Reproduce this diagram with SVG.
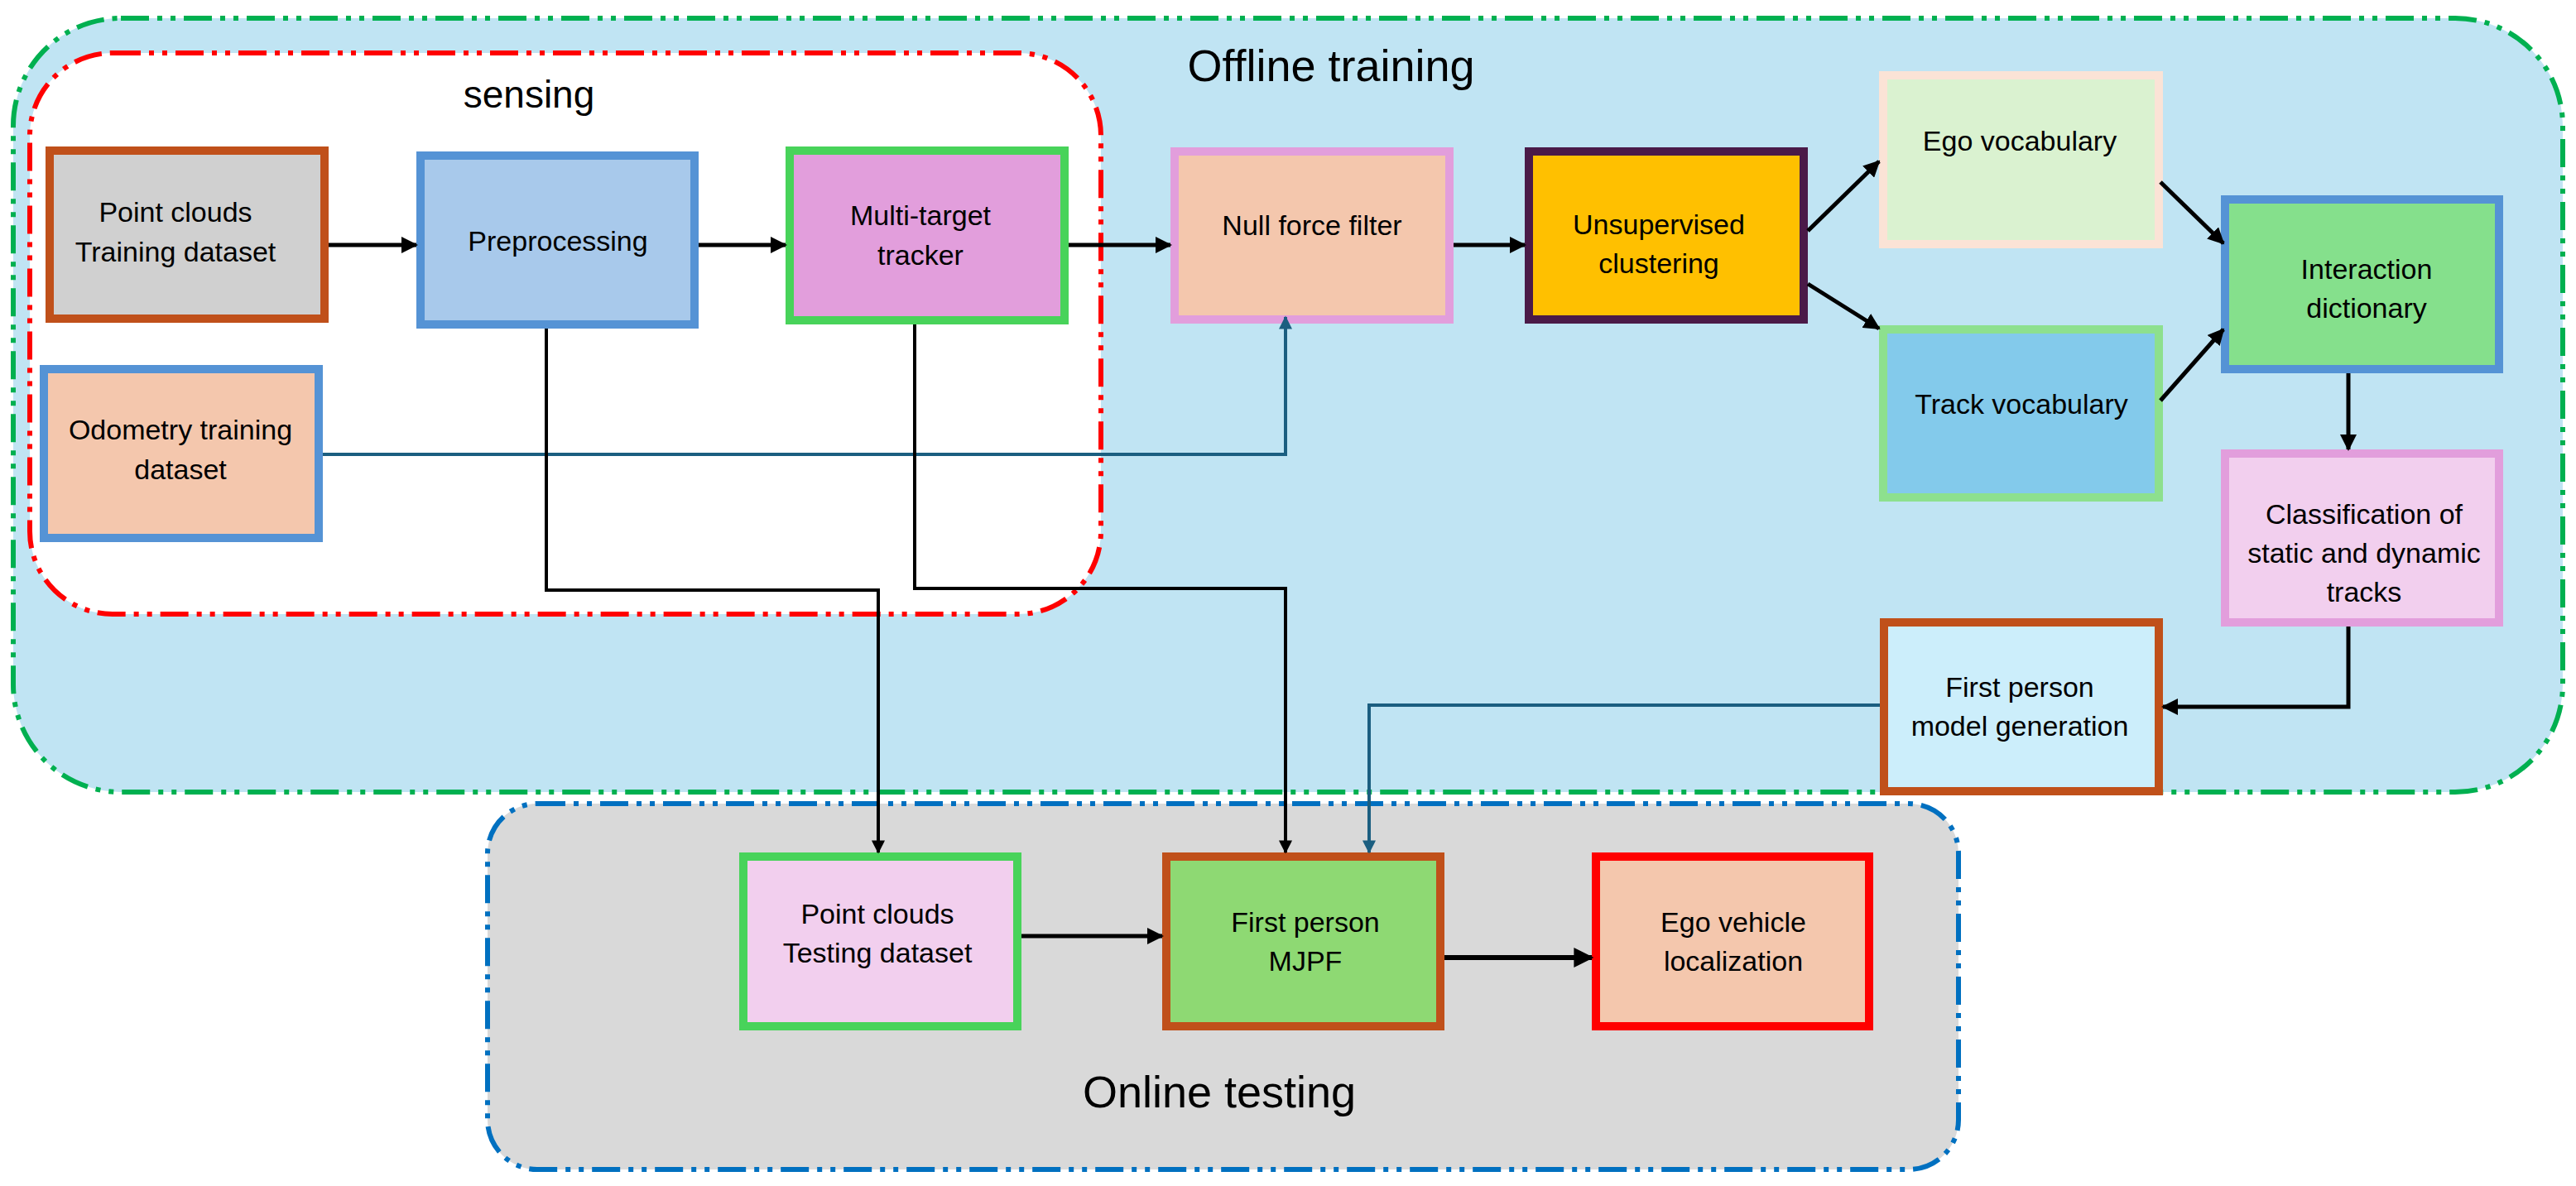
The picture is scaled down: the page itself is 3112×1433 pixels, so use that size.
<svg xmlns="http://www.w3.org/2000/svg" width="3112" height="1433" viewBox="0 0 3112 1433">
<style>
text{font-family:"Liberation Sans",Arial,sans-serif;fill:#000;text-anchor:middle}
.t{font-size:34px}
.big{font-size:54px}
.box{stroke-width:10}
.c{fill:none;stroke:#000;stroke-width:5}
.thin{fill:none;stroke:#000;stroke-width:4}
.teal{fill:none;stroke:#1B5E80;stroke-width:4}
.grp{stroke-width:6;stroke-dasharray:34 10 6 10 6 10}
</style>
<defs>
<marker id="a" viewBox="0 0 10 10" refX="9" refY="5" markerWidth="4" markerHeight="4" orient="auto" markerUnits="strokeWidth"><path d="M0,0L10,5L0,10z" fill="#000"/></marker>
<marker id="n" viewBox="0 0 10 10" refX="9" refY="5" markerWidth="7" markerHeight="4" orient="auto" markerUnits="strokeWidth"><path d="M0,0L10,5L0,10z" fill="#000"/></marker>
<marker id="nt" viewBox="0 0 10 10" refX="9" refY="5" markerWidth="7" markerHeight="4" orient="auto" markerUnits="strokeWidth"><path d="M0,0L10,5L0,10z" fill="#1B5E80"/></marker>
</defs>
<g id="offline">
<rect x="16" y="22" width="3080" height="935" rx="130" ry="130" fill="#C0E4F3" stroke="#00B050" class="grp"/>
<text class="big" x="1608" y="98">Offline training</text>
</g>
<g id="sensing">
<rect x="36" y="64" width="1294" height="678" rx="100" ry="100" fill="#FFFFFF" stroke="#FF0000" class="grp"/>
<text x="639" y="130" style="font-size:46px">sensing</text>
</g>
<g id="online">
<rect x="589" y="971" width="1777" height="442" rx="60" ry="60" fill="#D9D9D9" stroke="#0070C0" class="grp"/>
<text class="big" x="1473" y="1338">Online testing</text>
</g>
<g id="pc_train"><rect class="box" x="60" y="182" width="332" height="203" fill="#D0D0D0" stroke="#C0501A"/>
<text class="t" x="212" y="268">Point clouds</text><text class="t" x="212" y="316">Training dataset</text></g>
<g id="prep"><rect class="box" x="508" y="188" width="331" height="204" fill="#A8C9EB" stroke="#5593D5"/>
<text class="t" x="674" y="303">Preprocessing</text></g>
<g id="mtt"><rect class="box" x="954" y="182" width="332" height="205" fill="#E29EDC" stroke="#48D35A"/>
<text class="t" x="1112" y="272">Multi-target</text><text class="t" x="1112" y="320">tracker</text></g>
<g id="odo"><rect class="box" x="53" y="446" width="332" height="204" fill="#F4C7AD" stroke="#5593D5"/>
<text class="t" x="218" y="531">Odometry training</text><text class="t" x="218" y="579">dataset</text></g>
<g id="null"><rect class="box" x="1419" y="183" width="332" height="203" fill="#F4C7AD" stroke="#E29EDC"/>
<text class="t" x="1585" y="284">Null force filter</text></g>
<g id="unsup"><rect class="box" x="1847" y="183" width="332" height="203" fill="#FFC000" stroke="#4A1A48"/>
<text class="t" x="2004" y="283">Unsupervised</text><text class="t" x="2004" y="330">clustering</text></g>
<g id="ego"><rect class="box" x="2275" y="91" width="333" height="204" fill="#DAF2D0" stroke="#FBE3D6"/>
<text class="t" x="2440" y="182">Ego vocabulary</text></g>
<g id="track"><rect class="box" x="2275" y="398" width="333" height="203" fill="#83CAEB" stroke="#8DE08E"/>
<text class="t" x="2442" y="500">Track vocabulary</text></g>
<g id="inter"><rect class="box" x="2688" y="241" width="331" height="205" fill="#85E08C" stroke="#5593D5"/>
<text class="t" x="2859" y="337">Interaction</text><text class="t" x="2859" y="384">dictionary</text></g>
<g id="classif"><rect class="box" x="2688" y="548" width="331" height="204" fill="#F2CFEE" stroke="#E29EDC"/>
<text class="t" x="2856" y="633">Classification of</text><text class="t" x="2856" y="680">static and dynamic</text><text class="t" x="2856" y="727">tracks</text></g>
<g id="fpmg"><rect class="box" x="2276" y="752" width="332" height="204" fill="#CCEEFB" stroke="#C0501A"/>
<text class="t" x="2440" y="842">First person</text><text class="t" x="2440" y="889">model generation</text></g>
<g id="pc_test"><rect class="box" x="898" y="1035" width="331" height="205" fill="#F2CFEE" stroke="#48D35A"/>
<text class="t" x="1060" y="1116">Point clouds</text><text class="t" x="1060" y="1163">Testing dataset</text></g>
<g id="mjpf"><rect class="box" x="1409" y="1035" width="331" height="205" fill="#8ED973" stroke="#C0501A"/>
<text class="t" x="1577" y="1126">First person</text><text class="t" x="1577" y="1173">MJPF</text></g>
<g id="egoloc"><rect class="box" x="1928" y="1035" width="330" height="205" fill="#F4C7AD" stroke="#FF0000"/>
<text class="t" x="2094" y="1126">Ego vehicle</text><text class="t" x="2094" y="1173">localization</text></g>
<g id="connectors">
<path class="c" marker-end="url(#a)" d="M397,296H503"/>
<path class="c" marker-end="url(#a)" d="M844,296H949"/>
<path class="c" marker-end="url(#a)" d="M1291,296H1414"/>
<path class="c" marker-end="url(#a)" d="M1756,296H1842"/>
<path class="c" marker-end="url(#a)" d="M2184,279L2270,195"/>
<path class="c" marker-end="url(#a)" d="M2184,343L2270,397"/>
<path class="c" marker-end="url(#a)" d="M2610,220L2686,294"/>
<path class="c" marker-end="url(#a)" d="M2610,484L2686,398"/>
<path class="c" marker-end="url(#a)" d="M2837,451V543"/>
<path class="c" marker-end="url(#a)" d="M2837,757V854H2613"/>
<path class="teal" marker-end="url(#nt)" d="M2271,852H1654V1030"/>
<path class="teal" marker-end="url(#nt)" d="M390,549H1553V383"/>
<path class="thin" marker-end="url(#n)" d="M660,397V713H1061V1030"/>
<path class="thin" marker-end="url(#n)" d="M1105,392V711H1553V1030"/>
<path class="c" marker-end="url(#a)" d="M1234,1131H1404"/>
<path class="c" style="stroke-width:6" marker-end="url(#a)" d="M1745,1157H1923"/>
</g>
</svg>
